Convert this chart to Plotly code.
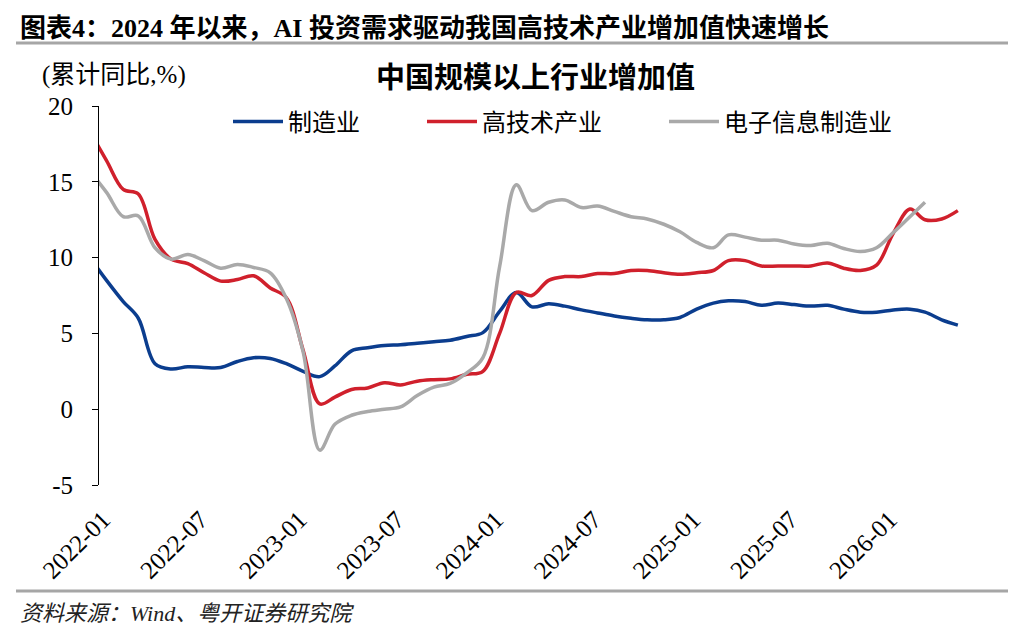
import pandas as pd
import plotly.graph_objects as go

# Monatsreihe (Werte jeweils zur Monatsmitte), Beginn 2021-12
months = pd.period_range("2021-12", "2026-05", freq="M").to_timestamp() + pd.Timedelta(days=14)

# 累计同比 (%)
manufacturing = [10.0, 8.5, 7.1, 6.0, 3.0, 2.65, 2.8, 2.75, 2.75, 3.15, 3.4, 3.35, 3.0, 2.5,
                 2.15, 2.85, 3.85, 4.05, 4.2, 4.25, 4.35, 4.45, 4.55, 4.8, 5.05, 6.45, 7.7,
                 6.75, 6.95, 6.8, 6.55, 6.35, 6.15, 6.0, 5.9, 5.9, 6.05, 6.6, 7.0, 7.15, 7.1,
                 6.85, 7.0, 6.9, 6.8, 6.85, 6.6, 6.4, 6.4, 6.55, 6.6, 6.4, 5.9, 5.55]
hightech = [18.3, 16.4, 14.5, 14.2, 11.2, 9.9, 9.6, 9.0, 8.45, 8.55, 8.8, 8.0, 7.35, 3.9,
            0.35, 0.8, 1.3, 1.4, 1.75, 1.6, 1.85, 1.95, 2.0, 2.3, 2.5, 5.0, 7.7,
            7.5, 8.5, 8.75, 8.75, 8.95, 8.95, 9.15, 9.15, 9.0, 8.9, 9.0, 9.15, 9.8, 9.8,
            9.45, 9.45, 9.45, 9.45, 9.65, 9.3, 9.15, 9.5, 11.6, 13.2, 12.5, 12.55, 13.1]
electronics = [15.7, 14.3, 12.7, 12.75, 10.65, 9.9, 10.2, 9.8, 9.3, 9.55, 9.35, 9.0, 7.3, 3.8,
               -2.7, -1.0, -0.4, -0.15, 0.0, 0.15, 0.9, 1.45, 1.7, 2.4, 3.4, 9.4, 14.8,
               13.1, 13.65, 13.8, 13.3, 13.4, 13.05, 12.7, 12.55, 12.2, 11.7, 11.0, 10.65, 11.5, 11.35,
               11.15, 11.15, 10.9, 10.8, 10.95, 10.6, 10.4, 10.65, 11.65, 12.7, 13.65]

series_names = ["制造业", "高技术产业", "电子信息制造业"]
series_colors = ["#0B3D8E", "#D0202C", "#A9A9A9"]

y_ticks = [-5, 0, 5, 10, 15, 20]
y_ticktext = ["-5", "0", "5", "10", "15", "20"]

# Seite hat 8px Rand -> Figur entsprechend kleiner, Koordinaten im Referenzbild
OFF = 8
W, H = 1016 - OFF, 636 - OFF
L, R, T, B = 99, 967, 106, 485  # Plotbereich (Referenzpixel)


def px_x(x):
    return (x - L) / (R - L)


def px_y(y):
    return (B - y) / (B - T)


serif_cjk = "Liberation Serif, Noto Sans CJK SC"
cjk = "Noto Sans CJK SC"

fig = go.Figure()
for i, (name, vals) in enumerate(zip(series_names, [manufacturing, hightech, electronics])):
    fig.add_trace(go.Scatter(
        x=months[:len(vals)], y=vals, name=name, mode="lines",
        line=dict(color=series_colors[i], width=3.5, shape="spline", smoothing=1.0),
        legend="legend" if i == 0 else f"legend{i + 1}",
    ))

legend_style = dict(orientation="h", xanchor="left", yanchor="middle", y=px_y(122),
                    itemwidth=50,
                    font=dict(family=cjk, size=24, color="#000"),
                    bgcolor="rgba(0,0,0,0)", borderwidth=0, itemclick=False)

fig.update_layout(
    width=W, height=H, autosize=False,
    margin=dict(l=L - OFF, r=W - (R - OFF), t=T - OFF, b=H - (B - OFF), pad=0),
    plot_bgcolor="white", paper_bgcolor="white",
    showlegend=True,
    legend=dict(legend_style, x=px_x(228)),
    legend2=dict(legend_style, x=px_x(422)),
    legend3=dict(legend_style, x=px_x(664)),
    xaxis=dict(
        type="date", range=["2022-01-01", "2026-06-01"],
        tick0="2022-01-01", dtick="M6", tickformat="%Y-%m",
        tickangle=-45, showline=False, ticks="", showgrid=False, zeroline=False,
        tickfont=dict(family="Liberation Serif", size=25, color="#000"),
        ticklabelstandoff=14, ticklabelshift=4,
    ),
    # Achse mit Teilstrichen auf der Nulllinie
    xaxis2=dict(
        type="date", range=["2022-01-01", "2026-06-01"], overlaying="x",
        anchor="free", position=0.2,
        tick0="2022-01-01", dtick="M3", ticks="inside", ticklen=6, tickwidth=1,
        tickcolor="#000", showticklabels=False, showline=True, linecolor="#808080",
        linewidth=2, showgrid=False, zeroline=False,
    ),
    yaxis=dict(
        range=[-5, 20], tickvals=y_ticks, ticktext=y_ticktext,
        ticks="outside", ticklen=6, tickcolor="#000",
        showline=True, linecolor="#000", linewidth=1, showgrid=False, zeroline=False,
        tickfont=dict(family="Liberation Serif", size=25, color="#000"),
        ticklabelstandoff=14,
    ),
)

annotations = [
    dict(text="<b>图表4：2024 年以来，AI 投资需求驱动我国高技术产业增加值快速增长</b>",
         x=px_x(18), y=px_y(28), xanchor="left", yanchor="middle",
         font=dict(family=serif_cjk, size=26, color="#000")),
    dict(text="(累计同比,%)", x=px_x(40), y=px_y(75), xanchor="left", yanchor="middle",
         font=dict(family=serif_cjk, size=25, color="#000")),
    dict(text="<b>中国规模以上行业增加值</b>", x=px_x(535), y=px_y(75),
         xanchor="center", yanchor="middle",
         font=dict(family=cjk, size=29, color="#000")),
    dict(text="<i>资料来源：Wind、粤开证券研究院</i>", x=px_x(18), y=px_y(613),
         xanchor="left", yanchor="middle",
         font=dict(family=serif_cjk, size=22, color="#222")),
]
for a in annotations:
    fig.add_annotation(xref="paper", yref="paper", showarrow=False, **a)

# graue Trennlinien
for yy in (43, 591):
    fig.add_shape(type="line", xref="paper", yref="paper",
                  x0=px_x(16), x1=px_x(1016), y0=px_y(yy), y1=px_y(yy),
                  line=dict(color="#A6A6A6", width=3))

fig.write_html("out.html")
